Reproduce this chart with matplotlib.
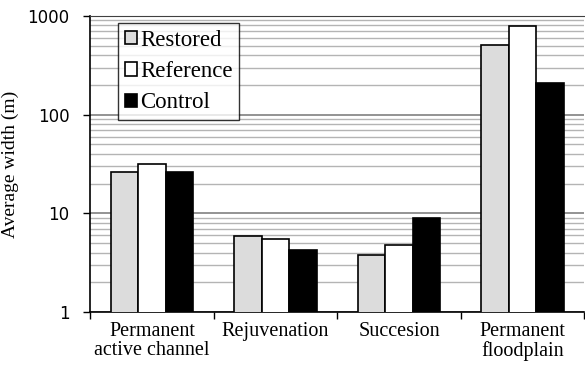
import matplotlib.pyplot as plt
import numpy as np
from matplotlib.ticker import FixedLocator, LogLocator, NullFormatter

plt.rcParams["font.family"] = ["Liberation Serif", "DejaVu Serif"]

categories = ["Permanent\nactive channel", "Rejuvenation", "Succesion", "Permanent\nfloodplain"]
restored = [26, 5.9, 3.8, 510]
reference = [32, 5.5, 4.8, 790]
control = [26, 4.3, 8.9, 210]

series = [
    ("Restored", restored, "#dcdcdc"),
    ("Reference", reference, "white"),
    ("Control", control, "black"),
]

fig = plt.figure(figsize=(5.85, 3.69), dpi=100)
ax = fig.add_axes([0.154, 0.154, 0.845, 0.803])

x = np.arange(len(categories))
width = 0.223
for i, (name, vals, color) in enumerate(series):
    ax.bar(x + (i - 1) * width, vals, width, color=color, edgecolor="black",
           linewidth=1.2, label=name, zorder=3)

ax.set_yscale("log")
ax.set_ylim(1, 1000)
ax.set_xlim(-0.5, len(categories) - 0.5)

# minor and major horizontal grid
ax.yaxis.set_minor_locator(LogLocator(base=10, subs=np.arange(2, 10)))
ax.yaxis.set_minor_formatter(NullFormatter())
ax.grid(True, which="minor", axis="y", color="#b4b4b4", linewidth=1.0, zorder=0)
ax.grid(True, which="major", axis="y", color="#808080", linewidth=1.2, zorder=0)
ax.tick_params(axis="y", which="minor", length=0)
ax.set_yticks([1, 10, 100, 1000])
ax.set_yticklabels(["1", "10", "100", "1000"], family="DejaVu Sans", fontsize=12)
ax.tick_params(axis="y", which="major", length=5, width=1, pad=10)

# category labels centered, tick marks between categories
ax.set_xticks(x)
ax.set_xticklabels(categories, fontsize=14.5, linespacing=1.0)
ax.tick_params(axis="x", which="major", length=0, pad=7)
ax.xaxis.set_minor_locator(FixedLocator(np.arange(-0.5, len(categories), 1.0)))
ax.tick_params(axis="x", which="minor", length=5, width=1, direction="out")

ax.spines["right"].set_visible(False)
ax.spines["top"].set_color("#404040")
for s in ["left", "bottom"]:
    ax.spines[s].set_linewidth(1.2)

ax.set_ylabel("Average width (m)", fontsize=14, labelpad=6)

leg = ax.legend(loc="upper left", bbox_to_anchor=(0.057, 0.976), fontsize=16.5,
                frameon=True, fancybox=False, edgecolor="black",
                handlelength=0.5, handleheight=0.5, handletextpad=0.15,
                labelspacing=0.45, borderpad=0.3, borderaxespad=0)
leg.get_frame().set_linewidth(1.0)
leg.set_zorder(5)

fig.savefig("out.png", dpi=100)
